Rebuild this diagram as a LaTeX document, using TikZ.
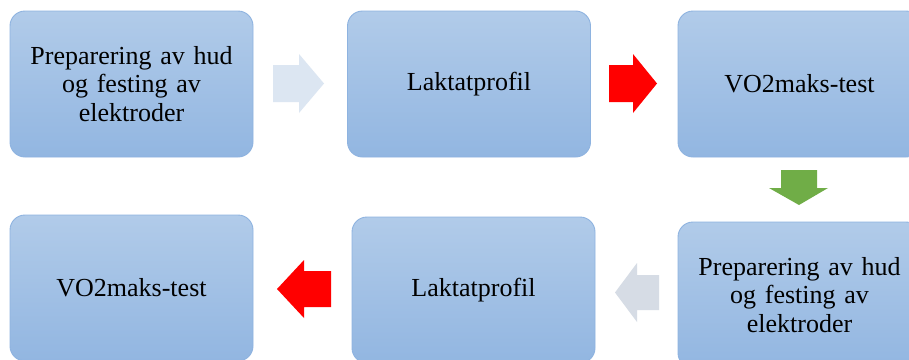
\documentclass[tikz,border=0pt]{standalone}
\usepackage{fontspec}
\setmainfont{Liberation Serif}
\definecolor{boxtop}{HTML}{B1CBE9}
\definecolor{boxbot}{HTML}{92B6E1}
\definecolor{boxline}{HTML}{8EB3E0}
\definecolor{lightarr}{HTML}{DCE6F2}
\definecolor{grayarr}{HTML}{D6DCE5}
\definecolor{greenarr}{HTML}{70AD47}
\definecolor{redarr}{HTML}{FF0000}
\begin{document}
\begin{tikzpicture}[x=1pt,y=-1pt,
  stepbox/.style={rectangle, rounded corners=15pt, draw=boxline, line width=0.9pt,
    top color=boxtop, bottom color=boxbot, minimum width=243pt, minimum height=146pt,
    align=center, text width=238pt, font=\fontsize{26}{28.5}\selectfont, inner sep=0pt}]
\clip (0,0) rectangle (909,359);
\fill[white] (0,0) rectangle (909,359);
\node[stepbox] (b1) at (131.5,84) {Preparering av hud\\og festing av\\elektroder};
\node[stepbox] (b2) at (469,84) {Laktatprofil};
\node[stepbox] (b3) at (799.5,84) {VO2maks-test};
\node[stepbox] (b6) at (799.5,295) {Preparering av hud\\og festing av\\elektroder};
\node[stepbox] (b5) at (473.5,290) {Laktatprofil};
\node[stepbox] (b4) at (131.5,288) {VO2maks-test};
% arrows
\fill[lightarr] (273,65) -- (299,65) -- (299,54) -- (324,83.5) -- (299,113) -- (299,102) -- (273,102) -- cycle;
\fill[redarr] (609,65) -- (633,65) -- (633,54) -- (657,83.5) -- (633,113) -- (633,102) -- (609,102) -- cycle;
\fill[greenarr] (781,170) -- (817,170) -- (817,188) -- (828,188) -- (799,205) -- (769,188) -- (781,188) -- cycle;
\fill[grayarr] (659,275) -- (637,275) -- (637,263) -- (615,292.5) -- (637,322) -- (637,310) -- (659,310) -- cycle;
\fill[redarr] (331,271) -- (304,271) -- (304,260) -- (277,289) -- (304,318) -- (304,307) -- (331,307) -- cycle;
\end{tikzpicture}
\end{document}
